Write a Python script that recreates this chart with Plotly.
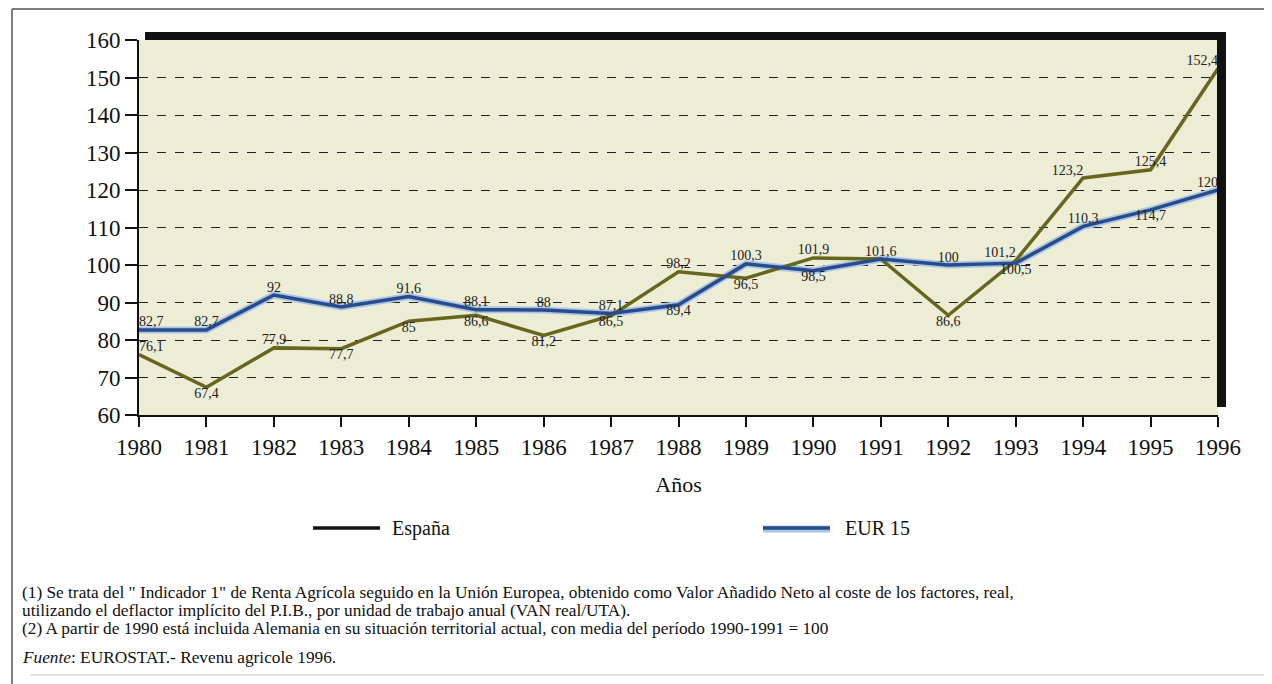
import plotly.graph_objects as go

# ---- data ----
years = list(range(1980, 1997))
espana = [76.1, 67.4, 77.9, 77.7, 85.0, 86.6, 81.2, 86.5, 98.2, 96.5, 101.9, 101.6, 86.6, 101.2, 123.2, 125.4, 152.4]
eur15 = [82.7, 82.7, 92.0, 88.8, 91.6, 88.1, 88.0, 87.1, 89.4, 100.3, 98.5, 101.6, 100.0, 100.5, 110.3, 114.7, 120.0]
series_names = ["España", "EUR 15"]
y_ticks = [60, 70, 80, 90, 100, 110, 120, 130, 140, 150, 160]
x_title = "Años"
footnotes = [
    "(1) Se trata del \" Indicador 1\" de Renta Agrícola seguido en la Unión Europea, obtenido como Valor Añadido Neto al coste de los factores, real,",
    "utilizando el deflactor implícito del P.I.B., por unidad de trabajo anual (VAN real/UTA).",
    "(2) A partir de 1990 está incluida Alemania en su situación territorial actual, con media del período 1990-1991 = 100",
]
source_label = "Fuente"
source_text = ": EUROSTAT.- Revenu agricole 1996."

# ---- label placement (style) ----
esp_pos = ["top right", "bottom center", "top center", "bottom center", "bottom center", "bottom center",
           "bottom center", "bottom center", "top center", "bottom center", "top center", "top center",
           "bottom center", "top left", "top left", "top center", "top left"]
eur_pos = ["top right", "top center", "top center", "top center", "top center", "top center",
           "top center", "top center", "bottom center", "top center", "bottom center", None,
           "top center", "bottom center", "top center", "bottom center", "top left"]


def fmt(v):
    return f"{v:g}".replace(".", ",")


esp_text = [fmt(v) for v in espana]
eur_text = [fmt(v) if p else "" for v, p in zip(eur15, eur_pos)]
eur_pos = [p if p else "top center" for p in eur_pos]

FONT = "Liberation Serif, Times New Roman, serif"
OLIVE = "#66661f"
BLUE = "#2a4a8c"
HALO = "#a8c6e4"
CREAM = "#edecd4"

# page has an 8px body margin; reference pixel coords are shifted by it
OFF = 8
FIG_W, FIG_H = 1272 - OFF, 684 - OFF
# plot area in reference (window) pixels
L, R, T, B = 139, 1218, 40, 415
W, H = R - L, B - T


def px(x):
    return (x - L) / W


def py(y):
    return (B - y) / H


fig = go.Figure()

# EUR 15 halo + line
fig.add_trace(go.Scatter(x=years, y=eur15, mode="lines", line=dict(color=HALO, width=7),
                         showlegend=False, hoverinfo="skip"))
fig.add_trace(go.Scatter(x=years, y=espana, mode="lines+text", name=series_names[0],
                         line=dict(color=OLIVE, width=3.5), text=esp_text, textposition=esp_pos,
                         textfont=dict(family=FONT, size=14, color="#222"), showlegend=False))
fig.add_trace(go.Scatter(x=years, y=eur15, mode="lines+text", name=series_names[1],
                         line=dict(color=BLUE, width=3.5), text=eur_text, textposition=eur_pos,
                         textfont=dict(family=FONT, size=14, color="#222"), showlegend=False))

shapes = []
# black shadow frame top and right
shapes.append(dict(type="rect", xref="paper", yref="paper", x0=px(145), x1=px(1226), y0=py(40), y1=py(32),
                   fillcolor="#111", line=dict(width=0), layer="above"))
shapes.append(dict(type="rect", xref="paper", yref="paper", x0=px(1217), x1=px(1226), y0=py(407), y1=py(32),
                   fillcolor="#111", line=dict(width=0), layer="above"))
# outer frame
shapes.append(dict(type="line", xref="paper", yref="paper", x0=px(12), x1=px(12), y0=py(9), y1=py(684),
                   line=dict(color="#555", width=1.5)))
shapes.append(dict(type="line", xref="paper", yref="paper", x0=px(12), x1=px(1272), y0=py(9), y1=py(9),
                   line=dict(color="#555", width=1.5)))
shapes.append(dict(type="line", xref="paper", yref="paper", x0=px(30), x1=px(1272), y0=py(675), y1=py(675),
                   line=dict(color="#e2e2e2", width=2)))
# legend symbols
shapes.append(dict(type="line", xref="paper", yref="paper", x0=px(313), x1=px(380), y0=py(528), y1=py(528),
                   line=dict(color="#111", width=3.5)))
shapes.append(dict(type="line", xref="paper", yref="paper", x0=px(763), x1=px(830), y0=py(529), y1=py(529),
                   line=dict(color=HALO, width=7)))
shapes.append(dict(type="line", xref="paper", yref="paper", x0=px(763), x1=px(830), y0=py(528), y1=py(528),
                   line=dict(color=BLUE, width=3.5)))

annotations = []
annotations.append(dict(xref="paper", yref="paper", x=px(390), y=py(528), text=series_names[0],
                        xanchor="left", yanchor="middle", showarrow=False,
                        font=dict(family=FONT, size=20, color="#111")))
annotations.append(dict(xref="paper", yref="paper", x=px(843), y=py(528), text=series_names[1],
                        xanchor="left", yanchor="middle", showarrow=False,
                        font=dict(family=FONT, size=20, color="#111")))
for t, yy in zip(footnotes, [592, 610, 628]):
    annotations.append(dict(xref="paper", yref="paper", x=px(20), y=py(yy), text=t,
                            xanchor="left", yanchor="middle", showarrow=False,
                            font=dict(family=FONT, size=17.3, color="#111")))
annotations.append(dict(xref="paper", yref="paper", x=px(20), y=py(657),
                        text=f"<i>{source_label}</i>{source_text}",
                        xanchor="left", yanchor="middle", showarrow=False,
                        font=dict(family=FONT, size=17.3, color="#111")))

fig.update_layout(
    width=FIG_W, height=FIG_H,
    margin=dict(l=L - OFF, r=FIG_W - (R - OFF), t=T - OFF, b=FIG_H - (B - OFF)),
    paper_bgcolor="white", plot_bgcolor=CREAM,
    font=dict(family=FONT, color="#111"),
    showlegend=False,
    shapes=shapes, annotations=annotations,
)
fig.update_xaxes(range=[1980, 1996], tickmode="array", tickvals=years, ticktext=[str(y) for y in years],
                 ticks="outside", ticklen=10, tickwidth=1.5, tickcolor="#111",
                 showline=True, linecolor="#111", linewidth=2, showgrid=False, zeroline=False,
                 tickfont=dict(family=FONT, size=23, color="#111"),
                 title=dict(text=x_title, font=dict(family=FONT, size=22, color="#111"), standoff=18))
fig.update_yaxes(range=[60, 160], tickmode="array", tickvals=y_ticks, ticks="outside", ticklen=12,
                 tickwidth=1.5, tickcolor="#111", showline=True, linecolor="#111", linewidth=2,
                 showgrid=True, gridcolor="#222", gridwidth=1.2, griddash="dash", zeroline=False,
                 tickfont=dict(family=FONT, size=23, color="#111"))

fig.write_html("out.html")
